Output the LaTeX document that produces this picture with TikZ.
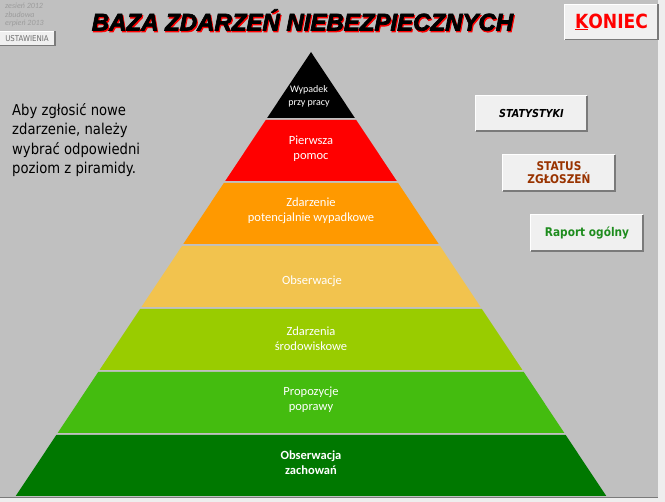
\documentclass[tikz,border=0pt]{standalone}
\usepackage{fontspec}
\setmainfont{Carlito}
\newfontfamily\titlefont{Liberation Sans}[BoldItalicFeatures={FakeBold=3}]
\newfontfamily\tahfont{DejaVu Sans}[FakeStretch=0.88]
\definecolor{pagewhite}{HTML}{EEEEEE}
\definecolor{bggray}{HTML}{C0C0C0}
\definecolor{edgegray}{HTML}{7A7A7A}
\definecolor{btnfill}{HTML}{F0F0F0}
\definecolor{lvlblack}{HTML}{000000}
\definecolor{lvlred}{HTML}{FF0000}
\definecolor{lvlorange}{HTML}{FF9900}
\definecolor{lvlyellow}{HTML}{F2C34E}
\definecolor{lvllime}{HTML}{99CC00}
\definecolor{lvlgreen}{HTML}{44BC0F}
\definecolor{lvldark}{HTML}{007800}
\definecolor{statusred}{HTML}{993300}
\definecolor{raportgreen}{HTML}{1E8C1E}
\definecolor{fainttext}{HTML}{9C9C9C}
\tikzset{
  bandtext/.style={text=white, align=center, inner sep=0pt, font=\fontsize{12.5}{15}\selectfont},
  btn/.style={fill=btnfill, inner sep=0pt, align=center},
  titletext/.style={inner sep=0pt, font=\titlefont\bfseries\itshape\fontsize{24}{26}\selectfont},
}
\newcommand\pyrband[3]{% top, bottom, colour
  \pgfmathsetmacro\wt{0.665*(#1-52)}%
  \pgfmathsetmacro\wb{0.665*(#2-52)}%
  \fill[#3] (311-\wt,#1) -- (311+\wt,#1) -- (311+\wb,#2) -- (311-\wb,#2) -- cycle;
}
\newcommand\btnedges[1]{%
  \draw[white, line width=1pt] (#1.south west) |- (#1.north east);
  \draw[edgegray, line width=1.5pt] (#1.south west) -| (#1.north east);
}
\begin{document}
\begin{tikzpicture}[x=1pt,y=-1pt]
\useasboundingbox (0,0) rectangle (665,502);
\clip (0,0) rectangle (665,502);
\fill[pagewhite] (0,0) rectangle (665,502);
\fill[bggray] (0,0) rectangle (658,497);
\draw[edgegray, line width=1pt] (0,497.5) -- (658,497.5);

% faint notes top left
\node[anchor=base west, inner sep=0pt, text=fainttext, font=\itshape\fontsize{8}{8}\selectfont] (note1) at (5,9) {zesień 2012};
\node[anchor=base west, inner sep=0pt, text=fainttext, font=\itshape\fontsize{8}{8}\selectfont] (note2) at (5,17.5) {zbudowa};
\node[anchor=base west, inner sep=0pt, text=fainttext, font=\itshape\fontsize{8}{8}\selectfont] (note3) at (5,26) {erpień 2013};

% USTAWIENIA button
\node[btn, minimum width=56pt, minimum height=14pt, text=fainttext!70!black, font=\tahfont\fontsize{8}{9}\selectfont] (ust) at (27,38.5) {USTAWIENIA};
\btnedges{ust}

% title
\node[titletext, text=red] (titleshadow) at (303.5,21.5) {BAZA ZDARZEŃ NIEBEZPIECZNYCH};
\node[titletext, text=black] (title) at (302.5,20) {BAZA ZDARZEŃ NIEBEZPIECZNYCH};

% KONIEC
\node[btn, minimum width=93pt, minimum height=35pt, text=red, font=\tahfont\bfseries\fontsize{19.5}{20}\selectfont] (koniec) at (611.5,22) {\underline{K}ONIEC};
\btnedges{koniec}

% instruction
\node[anchor=north west, inner sep=0pt, align=left, font=\tahfont\fontsize{15}{19.5}\selectfont] (info) at (12,103) {Aby zgłosić nowe\\zdarzenie, należy\\wybrać odpowiedni\\poziom z piramidy.};

% pyramid
\pyrband{52}{118}{lvlblack}
\pyrband{120}{181}{lvlred}
\pyrband{183}{244}{lvlorange}
\pyrband{246}{307}{lvlyellow}
\pyrband{309}{370}{lvllime}
\pyrband{372}{433}{lvlgreen}
\pyrband{435}{496}{lvldark}
\node[bandtext, font=\fontsize{10}{13}\selectfont] (wypadek) at (309,96) {Wypadek\\przy pracy};
\node[bandtext] (pierwsza) at (311,149) {Pierwsza\\pomoc};
\node[bandtext] (zdarzenie) at (311,211) {Zdarzenie\\potencjalnie wypadkowe};
\node[bandtext] (obserwacje) at (312,281) {Obserwacje};
\node[bandtext] (srodowiskowe) at (311,339) {Zdarzenia\\środowiskowe};
\node[bandtext] (propozycje) at (311,400) {Propozycje\\poprawy};
\node[bandtext, font=\bfseries\fontsize{12.5}{15}\selectfont] (zachowan) at (311,463) {Obserwacja\\zachowań};

% buttons right
\node[btn, minimum width=111pt, minimum height=35pt, text=black, font=\tahfont\bfseries\itshape\fontsize{11}{12}\selectfont] (stat) at (531.5,113.5) {STATYSTYKI};
\btnedges{stat}
\node[btn, minimum width=112pt, minimum height=36pt, text=statusred, font=\tahfont\bfseries\fontsize{12}{13}\selectfont] (status) at (559,173) {STATUS\\ZGŁOSZEŃ};
\btnedges{status}
\node[btn, minimum width=112pt, minimum height=36pt, text=raportgreen, font=\tahfont\bfseries\fontsize{12}{13}\selectfont] (raport) at (587,233) {Raport ogólny};
\btnedges{raport}
\end{tikzpicture}
\end{document}
